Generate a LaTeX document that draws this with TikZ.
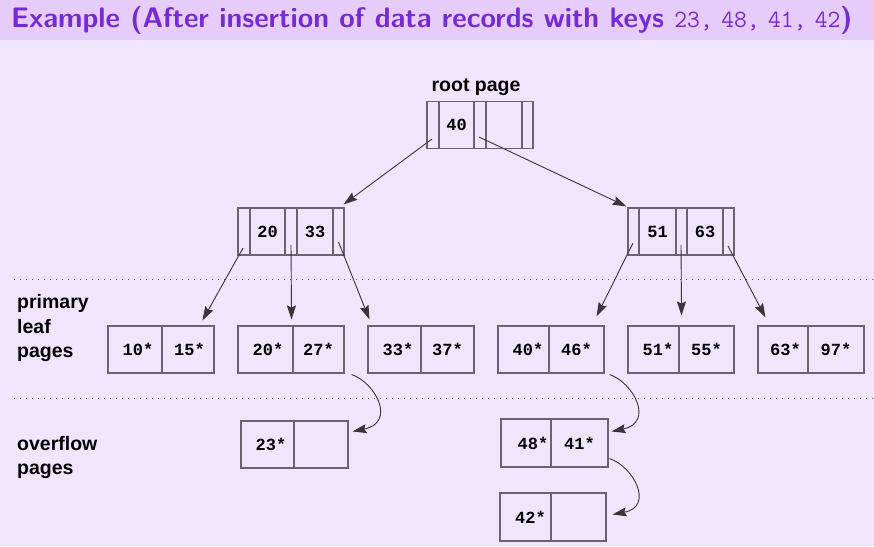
\documentclass[tikz,border=0pt]{standalone}
\usepackage{fontspec}
\newfontfamily\labelfont{Liberation Sans}
\newfontfamily\keyfont{Liberation Mono}
\usetikzlibrary{arrows.meta,calc}
\definecolor{barbg}{RGB}{229,204,250}
\definecolor{bodybg}{RGB}{241,229,253}
\definecolor{titlecol}{RGB}{118,42,214}
\definecolor{boxcol}{RGB}{105,100,110}
\definecolor{arrcol}{RGB}{55,55,55}
\definecolor{dotcol}{RGB}{90,90,95}
\tikzset{
  cell/.style={draw=boxcol, line width=1.1pt, rectangle, inner sep=0pt,
    minimum height=47pt, text=black,
    font=\keyfont\bfseries\fontsize{17}{17}\selectfont},
  lbl/.style={anchor=base west, inner sep=0pt, text=black,
    font=\labelfont\bfseries\fontsize{19.5}{19.5}\selectfont},
  arr/.style={draw=arrcol, line width=0.9pt,
    -{Stealth[length=14pt,width=9pt,inset=2pt]}},
  sep/.style={draw=dotcol, line width=1pt, dash pattern=on 1pt off 5pt}
}
\newcommand{\ttnum}[1]{{\mdseries\ttfamily\fontsize{24.8}{24.8}\selectfont #1}}
\begin{document}
\begin{tikzpicture}[x=1pt,y=-1pt]
\useasboundingbox (0,0) rectangle (874,546);
\fill[bodybg] (0,0) rectangle (874,546);
\fill[barbg] (0,0) rectangle (874,40);
\node[anchor=base west, inner sep=0pt, text=titlecol,
  font=\sffamily\bfseries\fontsize{28.2}{28.2}\selectfont] (title) at (11,27)
  {Example (After insertion of data records with keys \ttnum{23,\hspace{8.5pt}48,\hspace{8.5pt}41,\hspace{8.5pt}42})};

% separators
\coordinate (s1a) at (14,279); \coordinate (s1b) at (874,279);
\coordinate (s2a) at (14,398); \coordinate (s2b) at (874,398);
\draw[sep] (s1a) -- (s1b);
\draw[sep] (s2a) -- (s2b);

% labels
\node[lbl, anchor=base] (rootlbl) at (476,91) {root page};
\node[lbl] (p1) at (17,308) {primary};
\node[lbl] (p2) at (17,333) {leaf};
\node[lbl] (p3) at (17,357) {pages};
\node[lbl] (o1) at (17,450) {overflow};
\node[lbl] (o2) at (17,474) {pages};

% root page
\node[cell, minimum width=12pt] (r0) at (433,125) {};
\node[cell, minimum width=35pt] (r1) at (456.5,125) {40};
\node[cell, minimum width=12pt] (r2) at (480,125) {};
\node[cell, minimum width=36pt] (r3) at (504,125) {};
\node[cell, minimum width=11pt] (r4) at (527.5,125) {};

% inner left
\node[cell, minimum width=12pt] (a0) at (244,231.5) {};
\node[cell, minimum width=35pt] (a1) at (267.5,231.5) {20};
\node[cell, minimum width=12pt] (a2) at (291,231.5) {};
\node[cell, minimum width=36pt] (a3) at (315,231.5) {33};
\node[cell, minimum width=11pt] (a4) at (338.5,231.5) {};

% inner right
\node[cell, minimum width=11pt] (b0) at (633.5,231.5) {};
\node[cell, minimum width=37pt] (b1) at (657.5,231.5) {51};
\node[cell, minimum width=11pt] (b2) at (681.5,231.5) {};
\node[cell, minimum width=36pt] (b3) at (705,231.5) {63};
\node[cell, minimum width=11pt] (b4) at (728.5,231.5) {};

% primary leaf pages
\node[cell, minimum width=54pt] (l1a) at (135,349.5) {\hspace*{6pt}10*};
\node[cell, minimum width=52pt] (l1b) at (188,349.5) {\hspace*{3pt}15*};
\node[cell, minimum width=55pt] (l2a) at (265.5,349.5) {\hspace*{5pt}20*};
\node[cell, minimum width=51pt] (l2b) at (318.5,349.5) {27*};
\node[cell, minimum width=53pt] (l3a) at (394.5,349.5) {\hspace*{7pt}33*};
\node[cell, minimum width=53pt] (l3b) at (447.5,349.5) {37*};
\node[cell, minimum width=51pt] (l4a) at (523.5,349.5) {\hspace*{9pt}40*};
\node[cell, minimum width=55pt] (l4b) at (576.5,349.5) {46*};
\node[cell, minimum width=51pt] (l5a) at (653.5,349.5) {\hspace*{9pt}51*};
\node[cell, minimum width=55pt] (l5b) at (706.5,349.5) {55*};
\node[cell, minimum width=50pt] (l6a) at (783,349.5) {\hspace*{5pt}63*};
\node[cell, minimum width=56pt] (l6b) at (836,349.5) {97*};

% overflow pages
\node[cell, minimum width=53pt] (v1a) at (267.5,444.5) {\hspace*{7pt}23*};
\node[cell, minimum width=54pt] (v1b) at (321,444.5) {};
\node[cell, minimum width=50pt, minimum height=48pt] (v2a) at (526,443) {\hspace*{14pt}48*};
\node[cell, minimum width=57pt, minimum height=48pt] (v2b) at (579.5,443) {41*};
\node[cell, minimum width=51pt, minimum height=48pt] (v3a) at (525.5,517) {\hspace*{10pt}42*};
\node[cell, minimum width=55pt, minimum height=48pt] (v3b) at (578.5,517) {};

% root -> inner
\draw[arr] ($(r0.center)+(-1,14)$) -- ($(a4.north east)+(-1,-3)$);
\draw[arr] ($(r2.center)+(-1,12)$) -- ($(b0.north west)+(-1,-1)$);

% inner left -> leaves
\draw[arr] ($(a0.center)+(-1,16.5)$) -- ($(l1b.north west)+(41,-5)$);
\draw[arr] ($(a2.center)+(0,13.5)$) -- ($(l2a.north east)+(-2,-6)$);
\draw[arr] ($(a4.center)+(0,10.5)$) -- ($(l3a.north west)+(2,-6)$);

% inner right -> leaves
\draw[arr] ($(b0.center)+(-0.5,11.5)$) -- ($(l4b.north east)+(-8,-9)$);
\draw[arr] ($(b2.center)+(-0.5,13.5)$) -- ($(l5a.north east)+(2,-10)$);
\draw[arr] ($(b4.center)+(-0.5,14.5)$) -- ($(l6a.north west)+(8,-8)$);

% overflow chains
\draw[arr] ($(l2b.south east)+(7,1)$) .. controls ($(l2b.south east)+(31,9)$) and ($(l2b.south east)+(52,49)$) .. ($(v1b.north east)+(4,11)$);
\draw[arr] ($(l4b.south east)+(5,1)$) .. controls ($(l4b.south east)+(29,9)$) and ($(l4b.south east)+(50,49)$) .. ($(v2b.north east)+(3,13)$);
\draw[arr] ($(v2b.south east)+(1,-9)$) .. controls ($(v2b.south east)+(25,-1)$) and ($(v2b.south east)+(46,39)$) .. ($(v3b.north east)+(6,22)$);
\end{tikzpicture}
\end{document}
